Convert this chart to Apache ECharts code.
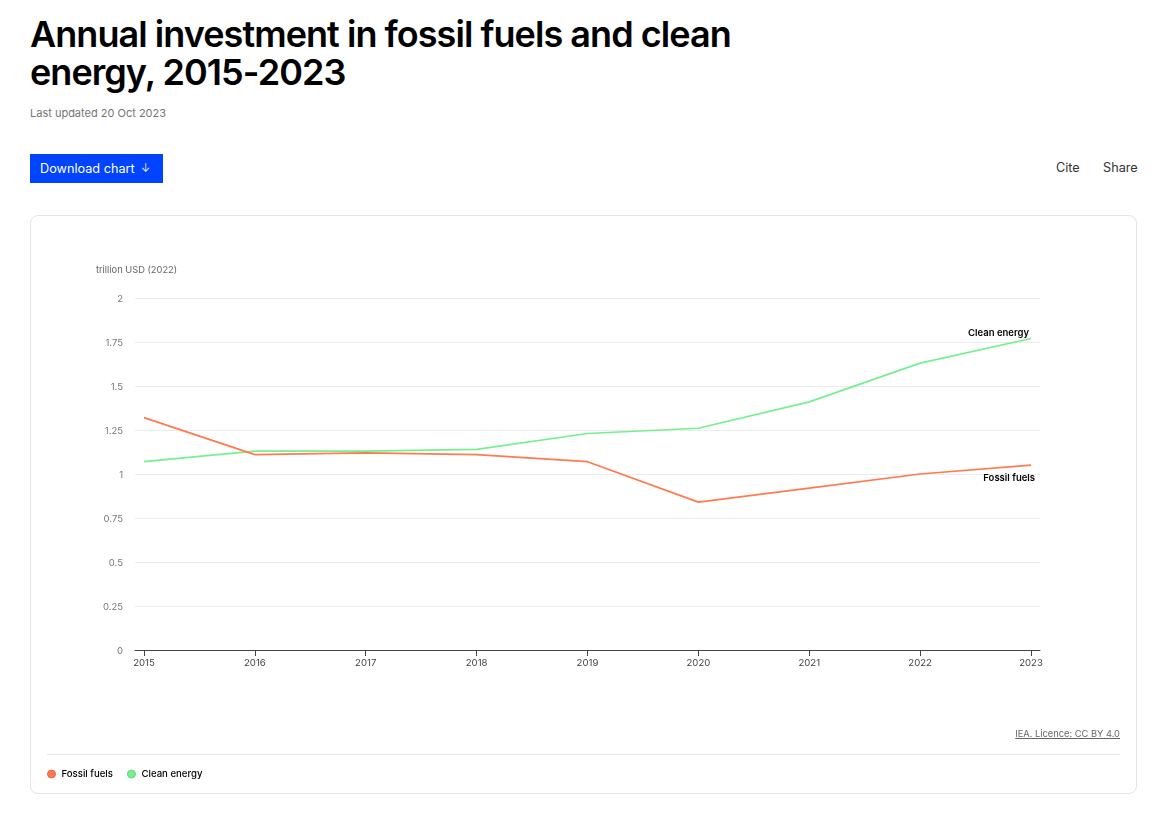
<!DOCTYPE html>
<html>
<head>
<meta charset="utf-8">
<title>Annual investment in fossil fuels and clean energy, 2015-2023</title>
<script src="https://cdn.jsdelivr.net/npm/echarts@6/dist/echarts.min.js"></script>
<style>
    html, body { margin: 0; padding: 0; background: #fff; font-family: Inter, sans-serif; }
    body { position: relative; width: 1165px; height: 823px; overflow: hidden; }
    div, a { position: absolute; white-space: nowrap; }
    #title { left: 30px; top: 15px; font-size: 36px; line-height: 38px; font-weight: 600; letter-spacing: -0.95px; color: #000; }
    #updated { left: 30px; top: 106px; font-size: 11px; line-height: 14px; color: #757575; }
    #download { left: 30px; top: 154px; width: 133px; height: 29px; line-height: 29px; background: #0044ff; color: #fff; font-size: 12.7px; text-indent: 10px; }
    #arrow { left: 141px; top: 154px; height: 29px; line-height: 29px; color: #fff; font-size: 11px; font-weight: 300; }
    #cite { left: 1056px; top: 159px; font-size: 12.7px; line-height: 17px; color: #333; }
    #share { left: 1103px; top: 159px; font-size: 12.7px; line-height: 17px; color: #333; }
    #card { left: 30px; top: 215px; width: 1105px; height: 577px; border: 1px solid #e4e4e4; border-radius: 8px; }
    #chart { left: 0; top: 0; width: 1165px; height: 823px; }
    #source { right: 45px; top: 727px; font-size: 9.3px; line-height: 13px; color: #666; text-decoration: underline; }
    #divider { left: 47px; top: 754px; width: 1073px; height: 1px; background: #e4e4e4; }
</style>
</head>
<body>
<div id="title">Annual investment in fossil fuels and clean<br>energy, 2015-2023</div>
<div id="updated">Last updated 20 Oct 2023</div>
<div id="download">Download chart</div>
<div id="arrow">↓</div>
<div id="cite">Cite</div>
<div id="share">Share</div>
<div id="card"></div>
<div id="chart"></div>
<a id="source">IEA. Licence: CC BY 4.0</a>
<div id="divider"></div>
<script>
// 数据 trillion USD (2022)
const years = [2015, 2016, 2017, 2018, 2019, 2020, 2021, 2022, 2023]
const fossilFuels = [1.32, 1.11, 1.12, 1.11, 1.07, 0.84, 0.92, 1.00, 1.05]
const cleanEnergy = [1.07, 1.13, 1.13, 1.14, 1.23, 1.26, 1.41, 1.63, 1.77]

const FONT = 'Inter, sans-serif'

function toPoints(values) {
    return values.map((v, i) => [years[i], v])
}

function lineSeries(name, values, color, z, labelOffset) {
    return {
        name: name,
        type: 'line',
        z: z,
        data: toPoints(values),
        showSymbol: false,
        symbol: 'circle',
        symbolSize: 8,
        itemStyle: { color: color },
        lineStyle: { color: color, width: 1.7 },
        endLabel: {
            show: true,
            formatter: '{a}',
            align: 'right',
            offset: labelOffset,
            color: '#000',
            fontFamily: FONT,
            fontSize: 9.5,
            fontWeight: 600
        }
    }
}

let chart = echarts.init(document.getElementById('chart'))

chart.setOption({
    animation: false,
    textStyle: { fontFamily: FONT },
    grid: { left: 135, right: 125, top: 298, bottom: 173 },
    legend: {
        left: 47,
        top: 769,
        icon: 'circle',
        itemWidth: 8,
        itemHeight: 8,
        itemGap: 14,
        padding: 0,
        data: [
            { name: 'Fossil fuels', itemStyle: { borderColor: '#e8653f', borderWidth: 1 } },
            { name: 'Clean energy', itemStyle: { borderColor: '#5fd67a', borderWidth: 1 } }
        ],
        textStyle: { color: '#000', fontFamily: FONT, fontSize: 9.6, fontWeight: 500, padding: [0, 0, 0, 1] }
    },
    xAxis: {
        type: 'value',
        min: 2014.919,
        max: 2023.081,
        splitLine: { show: false },
        axisLine: { show: true, lineStyle: { color: '#444', width: 1 } },
        axisTick: { show: true, customValues: years, length: 6, lineStyle: { color: '#444' } },
        axisLabel: {
            customValues: years,
            formatter: (v) => String(v),
            color: '#444',
            fontSize: 9.6,
            margin: 8
        }
    },
    yAxis: {
        type: 'value',
        min: 0,
        max: 2,
        interval: 0.25,
        name: 'trillion USD (2022)',
        nameLocation: 'end',
        nameGap: 23,
        nameTextStyle: { color: '#666', fontSize: 9.3, padding: [0, 0, 0, 3] },
        axisLine: { show: false },
        axisTick: { show: false },
        axisLabel: {
            margin: 12,
            formatter: '{v|{value}}',
            rich: { v: { color: '#777', fontSize: 9.5, fontFamily: FONT, padding: [3, 0, 0, 0] } }
        },
        splitLine: { lineStyle: { color: '#ececec', width: 1 } }
    },
    series: [
        lineSeries('Fossil fuels', fossilFuels, '#ff7a50', 3, [-4, 13]),
        lineSeries('Clean energy', cleanEnergy, '#76f08f', 2, [-10, -5])
    ]
})
</script>
</body>
</html>
